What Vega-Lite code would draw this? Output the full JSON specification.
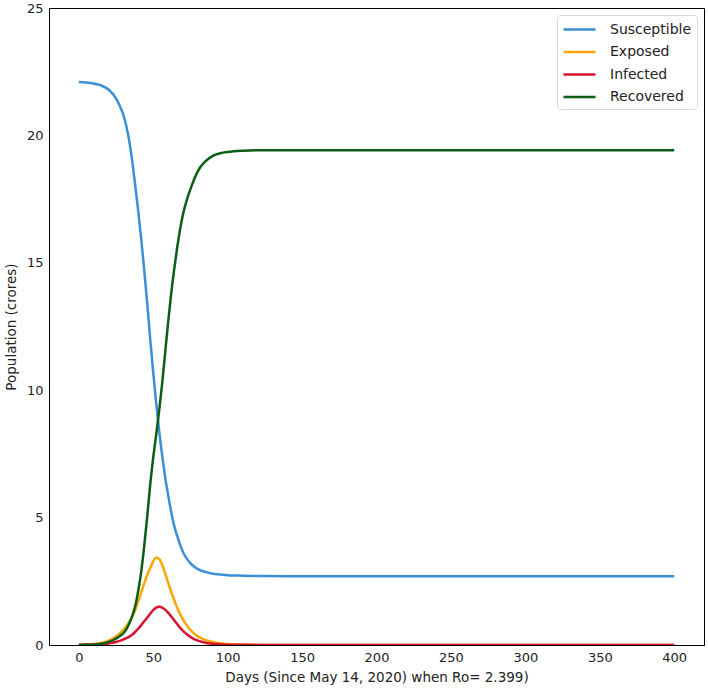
{
  "$schema": "https://vega.github.io/schema/vega-lite/v6.json",
  "autosize": {"type": "none"},
  "padding": {"left": 49, "top": 8, "right": 4, "bottom": 46},
  "width": 655,
  "height": 637,
  "background": "white",
  "config": {
    "view": {"stroke": "black", "strokeWidth": 1},
    "font": "DejaVu Sans"
  },
  "data": {
    "values": [
      {"day": 0, "Susceptible": 22.10, "Exposed": 0.01, "Infected": 0.003, "Recovered": 0.0},
      {"day": 5, "Susceptible": 22.08, "Exposed": 0.02, "Infected": 0.006, "Recovered": 0.005},
      {"day": 10, "Susceptible": 22.04, "Exposed": 0.04, "Infected": 0.013, "Recovered": 0.02},
      {"day": 15, "Susceptible": 21.96, "Exposed": 0.08, "Infected": 0.028, "Recovered": 0.05},
      {"day": 20, "Susceptible": 21.80, "Exposed": 0.17, "Infected": 0.06, "Recovered": 0.12},
      {"day": 25, "Susceptible": 21.45, "Exposed": 0.33, "Infected": 0.12, "Recovered": 0.25},
      {"day": 28, "Susceptible": 21.10, "Exposed": 0.48, "Infected": 0.17, "Recovered": 0.37},
      {"day": 30, "Susceptible": 20.80, "Exposed": 0.60, "Infected": 0.22, "Recovered": 0.47},
      {"day": 32, "Susceptible": 20.35, "Exposed": 0.75, "Infected": 0.27, "Recovered": 0.62},
      {"day": 34, "Susceptible": 19.75, "Exposed": 0.92, "Infected": 0.33, "Recovered": 0.85},
      {"day": 36, "Susceptible": 18.95, "Exposed": 1.12, "Infected": 0.41, "Recovered": 1.15},
      {"day": 38, "Susceptible": 18.00, "Exposed": 1.38, "Infected": 0.52, "Recovered": 1.55},
      {"day": 40, "Susceptible": 17.00, "Exposed": 1.72, "Infected": 0.64, "Recovered": 2.15},
      {"day": 42, "Susceptible": 15.90, "Exposed": 2.08, "Infected": 0.78, "Recovered": 2.90},
      {"day": 44, "Susceptible": 14.70, "Exposed": 2.42, "Infected": 0.93, "Recovered": 3.90},
      {"day": 46, "Susceptible": 13.40, "Exposed": 2.75, "Infected": 1.08, "Recovered": 5.05},
      {"day": 48, "Susceptible": 12.00, "Exposed": 3.02, "Infected": 1.23, "Recovered": 6.30},
      {"day": 50, "Susceptible": 10.70, "Exposed": 3.28, "Infected": 1.37, "Recovered": 7.35},
      {"day": 52, "Susceptible": 9.50, "Exposed": 3.43, "Infected": 1.47, "Recovered": 8.25},
      {"day": 54, "Susceptible": 8.40, "Exposed": 3.38, "Infected": 1.50, "Recovered": 9.20},
      {"day": 56, "Susceptible": 7.45, "Exposed": 3.15, "Infected": 1.47, "Recovered": 10.25},
      {"day": 58, "Susceptible": 6.60, "Exposed": 2.82, "Infected": 1.39, "Recovered": 11.45},
      {"day": 60, "Susceptible": 5.90, "Exposed": 2.45, "Infected": 1.27, "Recovered": 12.65},
      {"day": 62, "Susceptible": 5.25, "Exposed": 2.10, "Infected": 1.13, "Recovered": 13.75},
      {"day": 64, "Susceptible": 4.70, "Exposed": 1.78, "Infected": 0.98, "Recovered": 14.70},
      {"day": 66, "Susceptible": 4.30, "Exposed": 1.48, "Infected": 0.83, "Recovered": 15.55},
      {"day": 68, "Susceptible": 3.95, "Exposed": 1.22, "Infected": 0.68, "Recovered": 16.30},
      {"day": 70, "Susceptible": 3.65, "Exposed": 1.00, "Infected": 0.55, "Recovered": 16.90},
      {"day": 73, "Susceptible": 3.35, "Exposed": 0.74, "Infected": 0.40, "Recovered": 17.55},
      {"day": 76, "Susceptible": 3.15, "Exposed": 0.53, "Infected": 0.28, "Recovered": 18.05},
      {"day": 80, "Susceptible": 2.98, "Exposed": 0.34, "Infected": 0.17, "Recovered": 18.60},
      {"day": 85, "Susceptible": 2.87, "Exposed": 0.20, "Infected": 0.09, "Recovered": 18.98},
      {"day": 90, "Susceptible": 2.80, "Exposed": 0.12, "Infected": 0.05, "Recovered": 19.20},
      {"day": 95, "Susceptible": 2.77, "Exposed": 0.07, "Infected": 0.027, "Recovered": 19.30},
      {"day": 100, "Susceptible": 2.74, "Exposed": 0.04, "Infected": 0.014, "Recovered": 19.35},
      {"day": 110, "Susceptible": 2.72, "Exposed": 0.015, "Infected": 0.005, "Recovered": 19.40},
      {"day": 120, "Susceptible": 2.71, "Exposed": 0.006, "Infected": 0.002, "Recovered": 19.42},
      {"day": 140, "Susceptible": 2.70, "Exposed": 0.001, "Infected": 0.0005, "Recovered": 19.42},
      {"day": 170, "Susceptible": 2.70, "Exposed": 0.0, "Infected": 0.0, "Recovered": 19.42},
      {"day": 200, "Susceptible": 2.70, "Exposed": 0.0, "Infected": 0.0, "Recovered": 19.42},
      {"day": 250, "Susceptible": 2.70, "Exposed": 0.0, "Infected": 0.0, "Recovered": 19.42},
      {"day": 300, "Susceptible": 2.70, "Exposed": 0.0, "Infected": 0.0, "Recovered": 19.42},
      {"day": 350, "Susceptible": 2.70, "Exposed": 0.0, "Infected": 0.0, "Recovered": 19.42},
      {"day": 400, "Susceptible": 2.70, "Exposed": 0.0, "Infected": 0.0, "Recovered": 19.42}
    ]
  },
  "transform": [
    {"fold": ["Susceptible", "Exposed", "Infected", "Recovered"], "as": ["series", "value"]}
  ],
  "mark": {"type": "line", "interpolate": "monotone", "strokeWidth": 2.5, "clip": true},
  "encoding": {
    "x": {
      "field": "day", "type": "quantitative",
      "scale": {"domain": [-20, 420], "nice": false, "zero": false},
      "axis": {
        "values": [0, 50, 100, 150, 200, 250, 300, 350, 400],
        "title": "Days (Since May 14, 2020) when Ro= 2.399)",
        "grid": false, "ticks": false, "domainColor": "black",
        "labelFontSize": 13, "labelColor": "#222", "labelPadding": 6,
        "titleFontSize": 13.5, "titleFontWeight": "normal", "titleColor": "#222", "titlePadding": 6
      }
    },
    "y": {
      "field": "value", "type": "quantitative",
      "scale": {"domain": [0, 25], "nice": false},
      "axis": {
        "values": [0, 5, 10, 15, 20, 25],
        "title": "Population (crores)",
        "grid": false, "ticks": false, "domainColor": "black",
        "labelFontSize": 13, "labelColor": "#222", "labelPadding": 6,
        "titleFontSize": 13.5, "titleFontWeight": "normal", "titleColor": "#222", "titlePadding": 8
      }
    },
    "color": {
      "field": "series", "type": "nominal",
      "scale": {
        "domain": ["Susceptible", "Exposed", "Infected", "Recovered"],
        "range": ["#3a8fd6", "#ffa500", "#d7142f", "#0b5e16"]
      },
      "legend": {
        "title": null, "orient": "top-right", "offset": 7,
        "symbolType": "M-1,0H3", "symbolStrokeWidth": 2.5, "symbolSize": 256,
        "labelFontSize": 14, "labelColor": "#222", "labelOffset": 29,
        "rowPadding": 5.5, "padding": 5, "strokeColor": "#d8d8d8", "cornerRadius": 3,
        "fillColor": "white"
      }
    },
    "order": {"field": "day", "type": "quantitative"}
  }
}
